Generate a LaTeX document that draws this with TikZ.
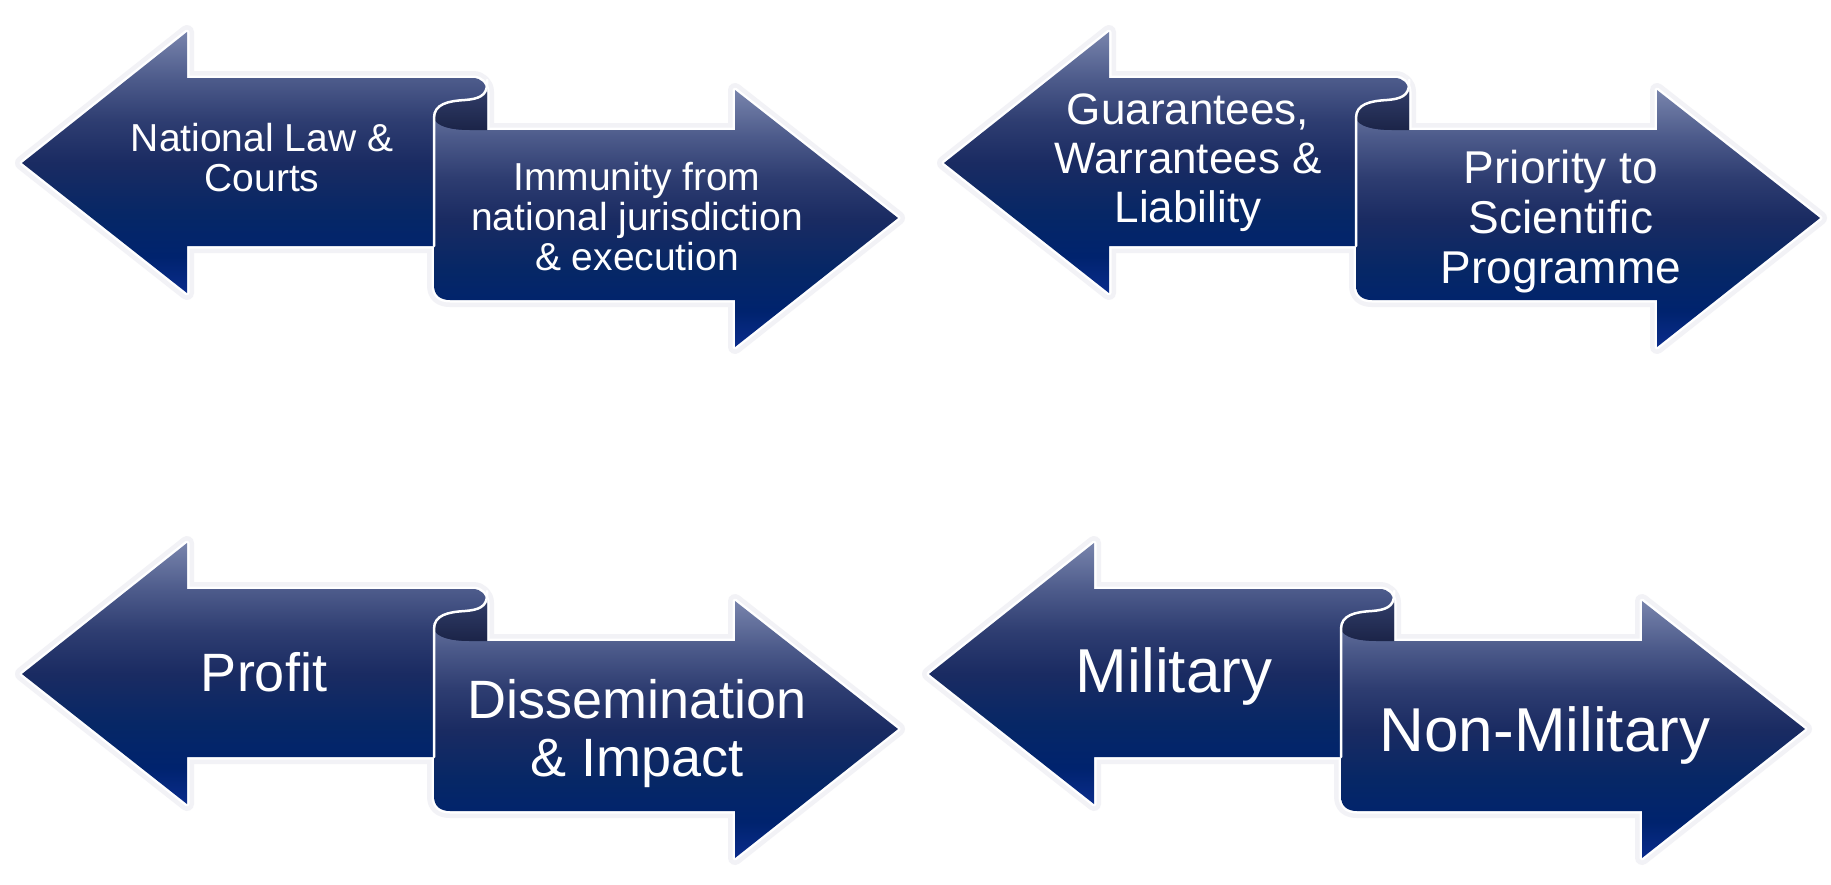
\documentclass[tikz,border=0pt]{standalone}
\usepackage{fontspec}
\setmainfont{Liberation Sans}
\definecolor{shTop}{HTML}{7884AC}
\definecolor{shHigh}{HTML}{4D5B8B}
\definecolor{shMidHigh}{HTML}{2E3D71}
\definecolor{shMid}{HTML}{1A2B62}
\definecolor{shMidLow}{HTML}{062766}
\definecolor{shLow}{HTML}{00236E}
\definecolor{shBot}{HTML}{0A2C8C}
\definecolor{rollTop}{HTML}{34406C}
\definecolor{rollBot}{HTML}{1B2448}
\definecolor{haloc}{HTML}{F2F2F6}
\pgfdeclareverticalshading{arrowsh}{100bp}{color(0bp)=(shBot); color(25bp)=(shBot); color(32bp)=(shLow); color(40bp)=(shMidLow); color(50bp)=(shMid); color(58bp)=(shMidHigh); color(66bp)=(shHigh); color(75bp)=(shTop); color(100bp)=(shTop)}
\def\Lpath{(22,163) -- (187,32) -- (187,78) -- (473,78) .. controls (481,78) and (487,84) .. (487,92) -- (487,246) -- (187,246) -- (187,293) -- cycle}
\def\Rpath{(434,118) .. controls (436,126) and (450,130) .. (470,130) -- (735,130) -- (735,90) -- (898,218) -- (735,347) -- (735,300) -- (450,300) .. controls (440,300) and (434,295) .. (434,285) -- cycle}
\def\Cpath{(487,84) .. controls (487,96) and (478,99) .. (465,100) .. controls (448,101) and (434,104) .. (434,118) .. controls (436,126) and (450,130) .. (470,130) -- (487,130) -- cycle}
\newcommand\pairshape{%
  \draw[haloout] \Lpath;
  \draw[haloout] \Rpath;
  \draw[haloin] \Lpath;
  \draw[haloin] \Rpath;
  \shade[shading=arrowsh] \Lpath;
  \shade[shading=arrowsh] \Rpath;
  \shade[top color=rollTop, bottom color=rollBot] \Cpath;
  \draw[rollline] (487,80) -- (487,84) .. controls (487,96) and (478,99) .. (465,100) .. controls (448,101) and (434,104) .. (434,118) -- (434,246);
}
\begin{document}
\begin{tikzpicture}[x=1pt, y=-1pt,
  haloout/.style={draw=haloc, line width=14pt, line join=round},
  haloin/.style={draw=white, line width=5pt, line join=round},
  rollline/.style={draw=white, line width=2.5pt, line cap=round},
  txt/.style={text=white, align=center, inner sep=0pt}]
\fill[white] (0,0) rectangle (1831,884);
\useasboundingbox (0,0) rectangle (1831,884);
% pair 1
\begin{scope}
  \pairshape
  \node[txt, font={\fontsize{39}{40}\selectfont}] (t1l) at (262,158) {National Law \&\\Courts};
  \node[txt, font={\fontsize{39}{40}\selectfont}] (t1r) at (637,217) {Immunity from\\national jurisdiction\\\& execution};
\end{scope}
% pair 2
\begin{scope}[shift={(922,0)}]
  \pairshape
  \node[txt, font={\fontsize{44}{49}\selectfont}] (t2l) at (266,163) {Guarantees,\\Warrantees \&\\Liability};
  \node[txt, font={\fontsize{46}{50}\selectfont}] (t2r) at (639,222) {Priority to\\Scientific\\Programme};
\end{scope}
% pair 3
\begin{scope}[shift={(0,511)}]
  \pairshape
  \node[txt, font={\fontsize{54}{58}\selectfont}] (t3l) at (264,161.5) {Profit};
  \node[txt, font={\fontsize{54}{58}\selectfont}] (t3r) at (637,223) {Dissemination\\\& Impact};
\end{scope}
% pair 4
\begin{scope}[shift={(907,511)}]
  \pairshape
  \node[txt, font={\fontsize{62}{66}\selectfont}] (t4l) at (267,165) {Military};
  \node[txt, font={\fontsize{62}{66}\selectfont}] (t4r) at (638,224) {Non-Military};
\end{scope}
\end{tikzpicture}
\end{document}
